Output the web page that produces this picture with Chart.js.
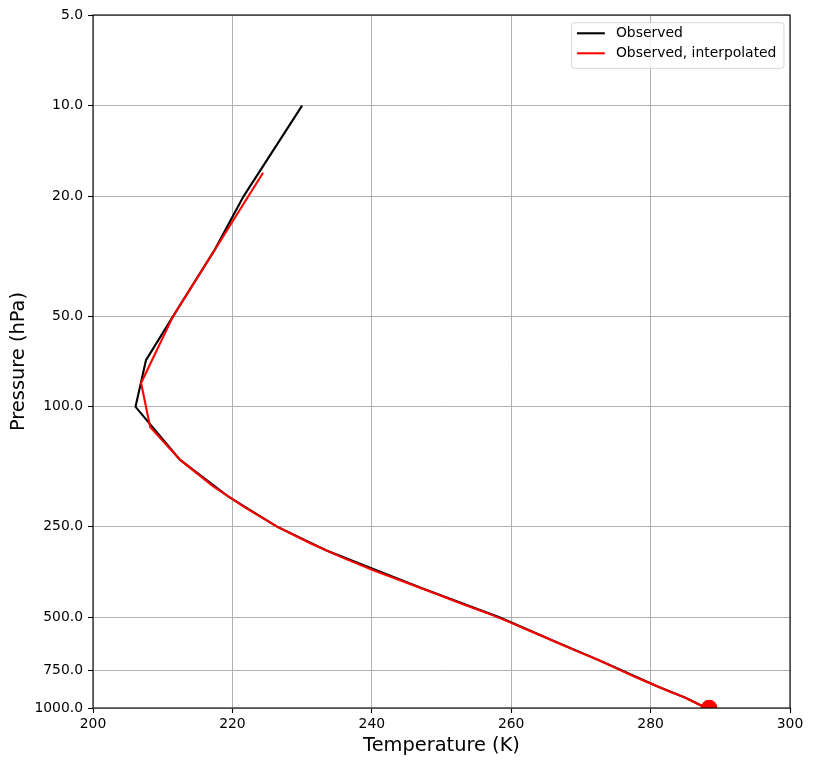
<!DOCTYPE html>
<html>
<head>
<meta charset="utf-8">
<style>
  html, body { margin: 0; padding: 0; background: #fff; }
  canvas { display: block; }
</style>
<script src="https://cdn.jsdelivr.net/npm/chart.js@4.4.1/dist/chart.umd.min.js"></script>
</head>
<body>
<canvas id="chart" width="813" height="766"></canvas>
<script>
// observed sounding (pressure levels, hPa) and temperature (K)
const obsPressure = [1000, 925, 850, 700, 600, 500, 400, 300, 250, 200, 150, 100, 70, 50, 30, 20, 10];
const obsTemp = [288.0, 285.0, 281.1, 273.0, 266.2, 258.3, 247.2, 233.5, 226.4, 219.6, 212.5, 206.1, 207.6, 211.5, 217.5, 221.6, 230.0];

// same profile on the model levels
const modelPressure = [16.7, 50.0, 83.3, 116.7, 150.0, 183.3, 216.7, 250.0, 283.3, 316.7,
    350.0, 383.3, 416.7, 450.0, 483.3, 516.7, 550.0, 583.3, 616.7, 650.0,
    683.3, 716.7, 750.0, 783.3, 816.7, 850.0, 883.3, 916.7, 950.0, 983.3];
const interpTemp = [224.4, 211.5, 206.9, 208.2, 212.5, 217.2, 221.9, 226.4, 231.1, 235.8,
    240.4, 244.9, 249.1, 252.8, 256.5, 259.6, 262.3, 264.9, 267.3, 269.6,
    271.9, 273.9, 275.7, 277.5, 279.3, 281.1, 282.8, 284.6, 286.0, 287.3];

// surface point
const surfacePressure = [1000];
const surfaceTemp = [288.4];

const pressureTicks = [5, 10, 20, 50, 100, 250, 500, 750, 1000];

const toPoints = (t, p) => t.map((v, i) => ({ x: v, y: p[i] }));

Chart.defaults.font.family = "'DejaVu Sans', sans-serif";
Chart.defaults.font.size = 13.9;
Chart.defaults.color = '#000';

const framePlugin = {
    id: 'frame',
    afterDatasetsDraw(chart) {
        const { ctx, chartArea: a } = chart;
        ctx.save();
        ctx.strokeStyle = '#000';
        ctx.lineWidth = 1.1;
        ctx.strokeRect(a.left, a.top, a.right - a.left, a.bottom - a.top);
        ctx.restore();
    }
};

// matplotlib-like legend inside the upper right corner
const boxLegend = {
    id: 'boxLegend',
    afterDraw(chart) {
        const { ctx, chartArea: a } = chart;
        const items = chart.data.datasets.filter(d => d.label);
        const fs = 13.9;
        const pad = 0.4 * fs, handle = 2 * fs, gap = 0.8 * fs, row = 20;
        ctx.save();
        ctx.font = fs + "px 'DejaVu Sans'";
        const textW = Math.max(...items.map(d => ctx.measureText(d.label).width));
        const w = pad + handle + gap + textW + pad + 2;
        const h = 25.6 + (items.length - 1) * row;
        const x = a.right - 6 - w;
        const y = a.top + 7.7;
        ctx.beginPath();
        if (ctx.roundRect) ctx.roundRect(x, y, w, h, 3); else ctx.rect(x, y, w, h);
        ctx.fillStyle = 'rgba(255,255,255,0.8)';
        ctx.fill();
        ctx.strokeStyle = 'rgba(204,204,204,0.8)';
        ctx.lineWidth = 1;
        ctx.stroke();
        items.forEach((d, i) => {
            const cy = y + 10.6 + i * row;
            ctx.beginPath();
            ctx.moveTo(x + pad, cy);
            ctx.lineTo(x + pad + handle, cy);
            ctx.strokeStyle = d.borderColor;
            ctx.lineWidth = 2.1;
            ctx.stroke();
            ctx.fillStyle = '#000';
            ctx.textBaseline = 'middle';
            ctx.fillText(d.label, x + pad + handle + gap, cy);
        });
        ctx.restore();
    }
};

new Chart(document.getElementById('chart').getContext('2d'), {
    type: 'scatter',
    data: {
        datasets: [{
            label: 'Observed',
            data: toPoints(obsTemp, obsPressure),
            showLine: true,
            borderColor: '#000',
            borderWidth: 2.1,
            pointRadius: 0,
            order: 2
        }, {
            label: 'Observed, interpolated',
            data: toPoints(interpTemp, modelPressure),
            showLine: true,
            borderColor: '#ff0000',
            borderWidth: 2.1,
            pointRadius: 0,
            order: 1
        }, {
            data: toPoints(surfaceTemp, surfacePressure),
            showLine: false,
            backgroundColor: '#ff0000',
            borderColor: '#ff0000',
            borderWidth: 0,
            pointRadius: 8.3,
            clip: 0,
            order: 0
        }]
    },
    options: {
        responsive: false,
        devicePixelRatio: 1,
        animation: false,
        layout: { padding: { left: 0, right: 23, top: 15, bottom: 0 } },
        plugins: {
            legend: { display: false },
            tooltip: { enabled: false }
        },
        scales: {
            x: {
                type: 'linear',
                min: 200, max: 300,
                ticks: { stepSize: 20, padding: 3, color: '#000' },
                grid: { color: '#b0b0b0', lineWidth: 1, tickColor: '#000', tickLength: 5, tickWidth: 1.1 },
                border: { display: false },
                title: { display: true, text: 'Temperature (K)', font: { size: 19.4 }, color: '#000', padding: { top: 0, bottom: 8 } },
                afterFit: s => { s.height = 58; }
            },
            y: {
                type: 'logarithmic',
                reverse: true,
                min: 5, max: 1000,
                afterBuildTicks: s => { s.ticks = pressureTicks.map(v => ({ value: v })); },
                ticks: { autoSkip: false, padding: 5, color: '#000', callback: v => Number(v).toFixed(1) },
                grid: { color: '#b0b0b0', lineWidth: 1, tickColor: '#000', tickLength: 5, tickWidth: 1.1 },
                border: { display: false },
                title: { display: true, text: 'Pressure (hPa)', font: { size: 19.4 }, color: '#000', padding: { top: 7, bottom: 0 } },
                afterFit: s => { s.width = 93; }
            }
        }
    },
    plugins: [framePlugin, boxLegend]
});
</script>
</body>
</html>
